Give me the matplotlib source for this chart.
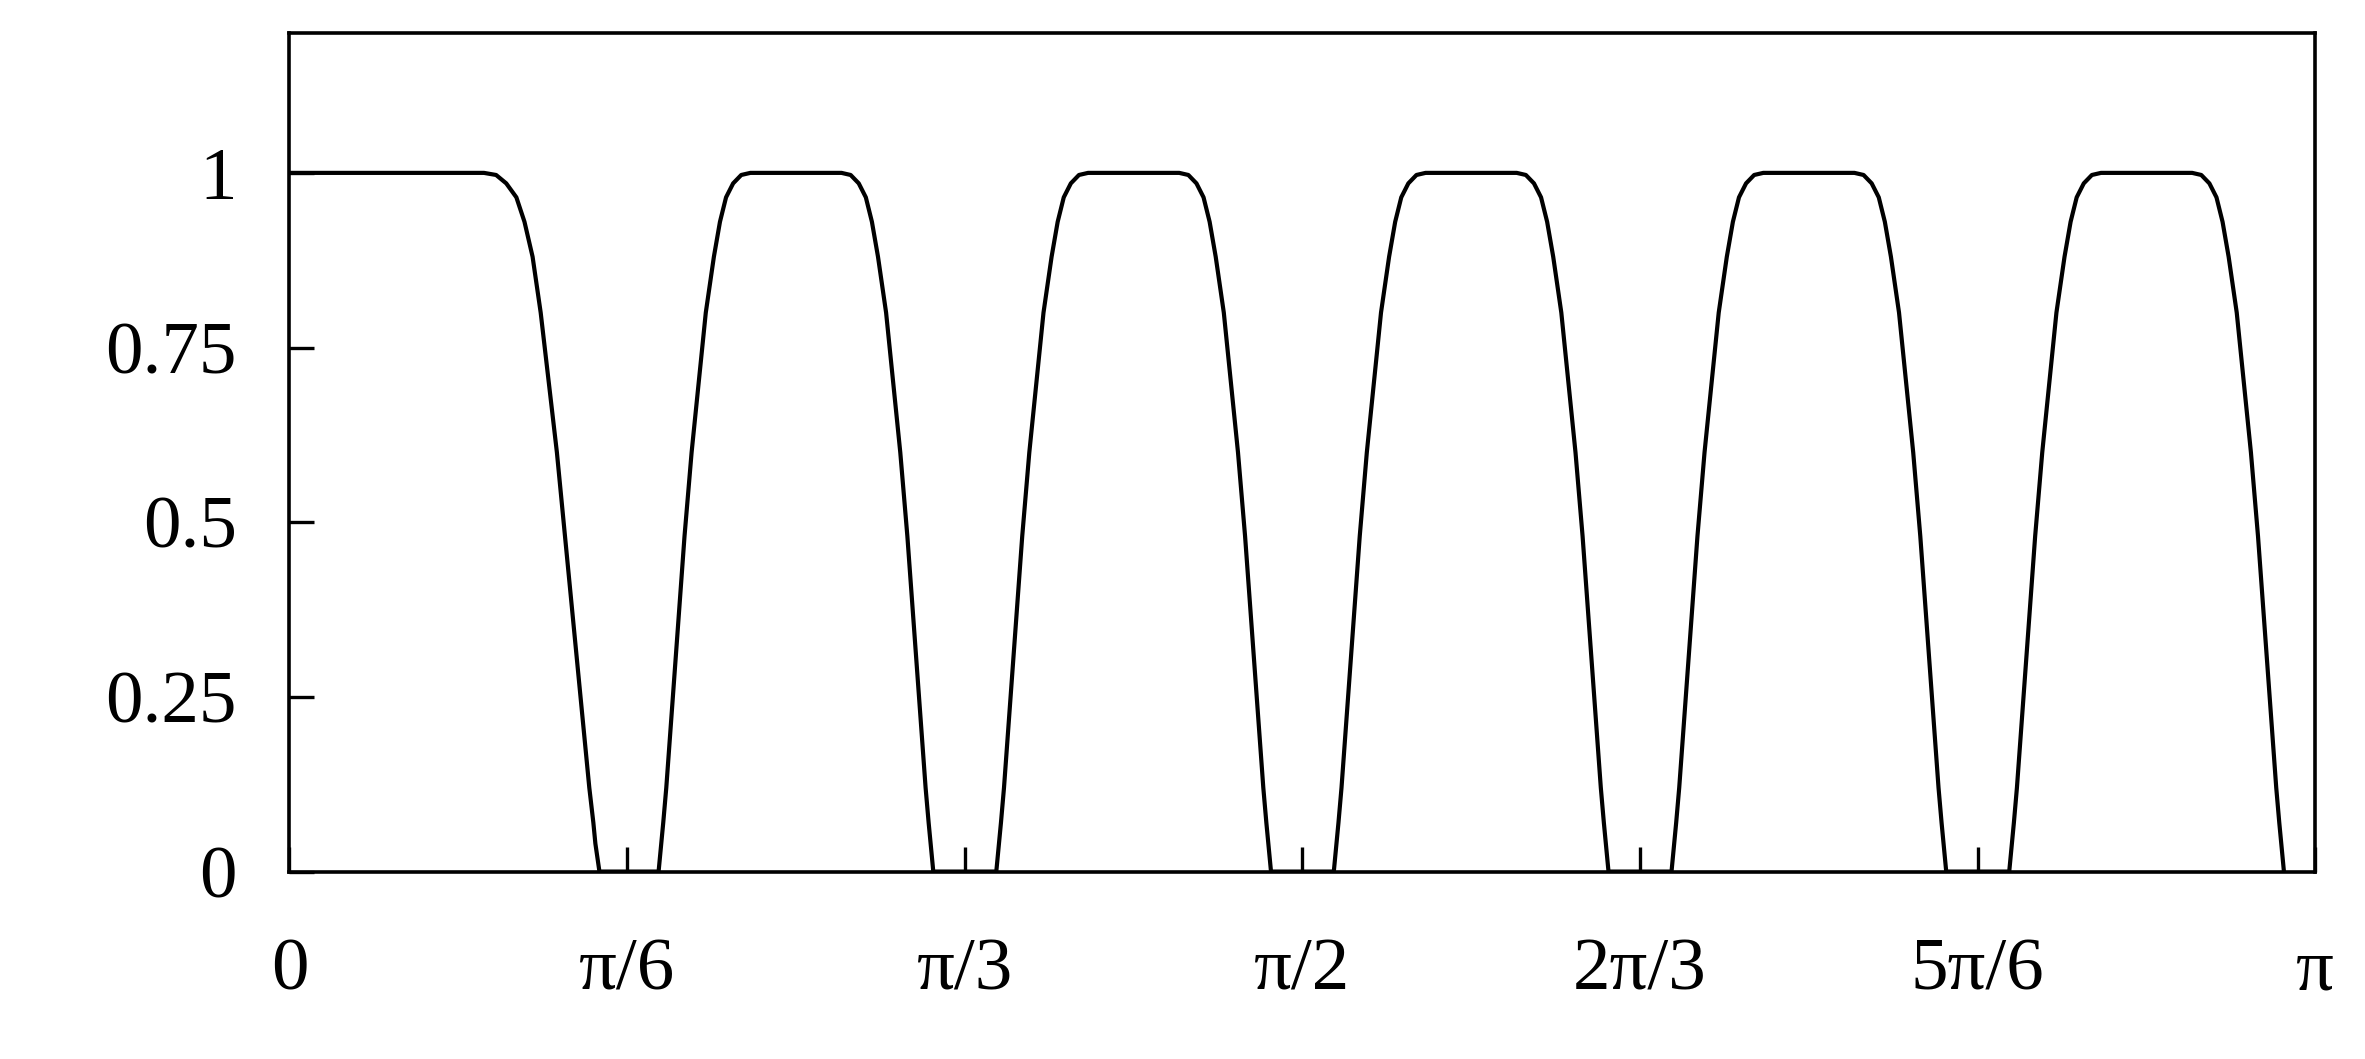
import numpy as np
import matplotlib.pyplot as plt

plt.rcParams['font.family'] = ['Liberation Serif', 'DejaVu Serif']

# x in units of pi
first_x = [0.0, 0.096, 0.102, 0.107, 0.112, 0.116, 0.120, 0.124, 0.128, 0.132,
           0.136, 0.140, 0.144, 0.148, 0.150, 0.151, 0.153]
first_y = [1.0, 1.0, 0.997, 0.985, 0.965, 0.93, 0.88, 0.8, 0.7, 0.6,
           0.48, 0.36, 0.24, 0.12, 0.07, 0.04, 0.0]

lobe_centers = [0.2500, 0.4167, 0.5833, 0.7500, 0.9167]
lobe_dx = [0.0678, 0.0665, 0.0655, 0.0640, 0.0610, 0.0580, 0.0550, 0.0515, 0.0480,
           0.0445, 0.0405, 0.0375, 0.0345, 0.0310, 0.0270, 0.0225, 0.0190]
lobe_y = [0.0, 0.04, 0.07, 0.12, 0.24, 0.36, 0.48, 0.6, 0.7,
          0.8, 0.88, 0.93, 0.965, 0.985, 0.997, 1.0, 1.0]

xs, ys = list(first_x), list(first_y)
for c in lobe_centers:
    xs += [c - d for d in lobe_dx] + [c + d for d in lobe_dx[::-1]]
    ys += lobe_y + lobe_y[::-1]

xs = np.array(xs) * np.pi
ys = np.array(ys)

ytick_vals = [0, 0.25, 0.5, 0.75, 1]
ytick_labels = ['0', '0.25', '0.5', '0.75', '1']
xtick_vals = [k * np.pi / 6 for k in range(7)]
xtick_labels = ['0', 'π/6', 'π/3', 'π/2', '2π/3', '5π/6', 'π']

fig = plt.figure(figsize=(23.65, 10.59), dpi=100)
ax = fig.add_axes([0.1224, 0.177, 0.8566, 0.7917])
ax.plot(xs, ys, color='black', lw=3, solid_joinstyle='round')
ax.set_xlim(0, np.pi)
ax.set_ylim(0, 1.2)
for s in ax.spines.values():
    s.set_linewidth(2.6)
ax.set_yticks(ytick_vals, ytick_labels)
ax.set_xticks(xtick_vals, xtick_labels)
ax.tick_params(axis='both', direction='in', length=18, width=2.4, labelsize=54)
ax.tick_params(axis='x', pad=48)
ax.tick_params(axis='y', pad=38)
fig.savefig('out.png', dpi=100)
